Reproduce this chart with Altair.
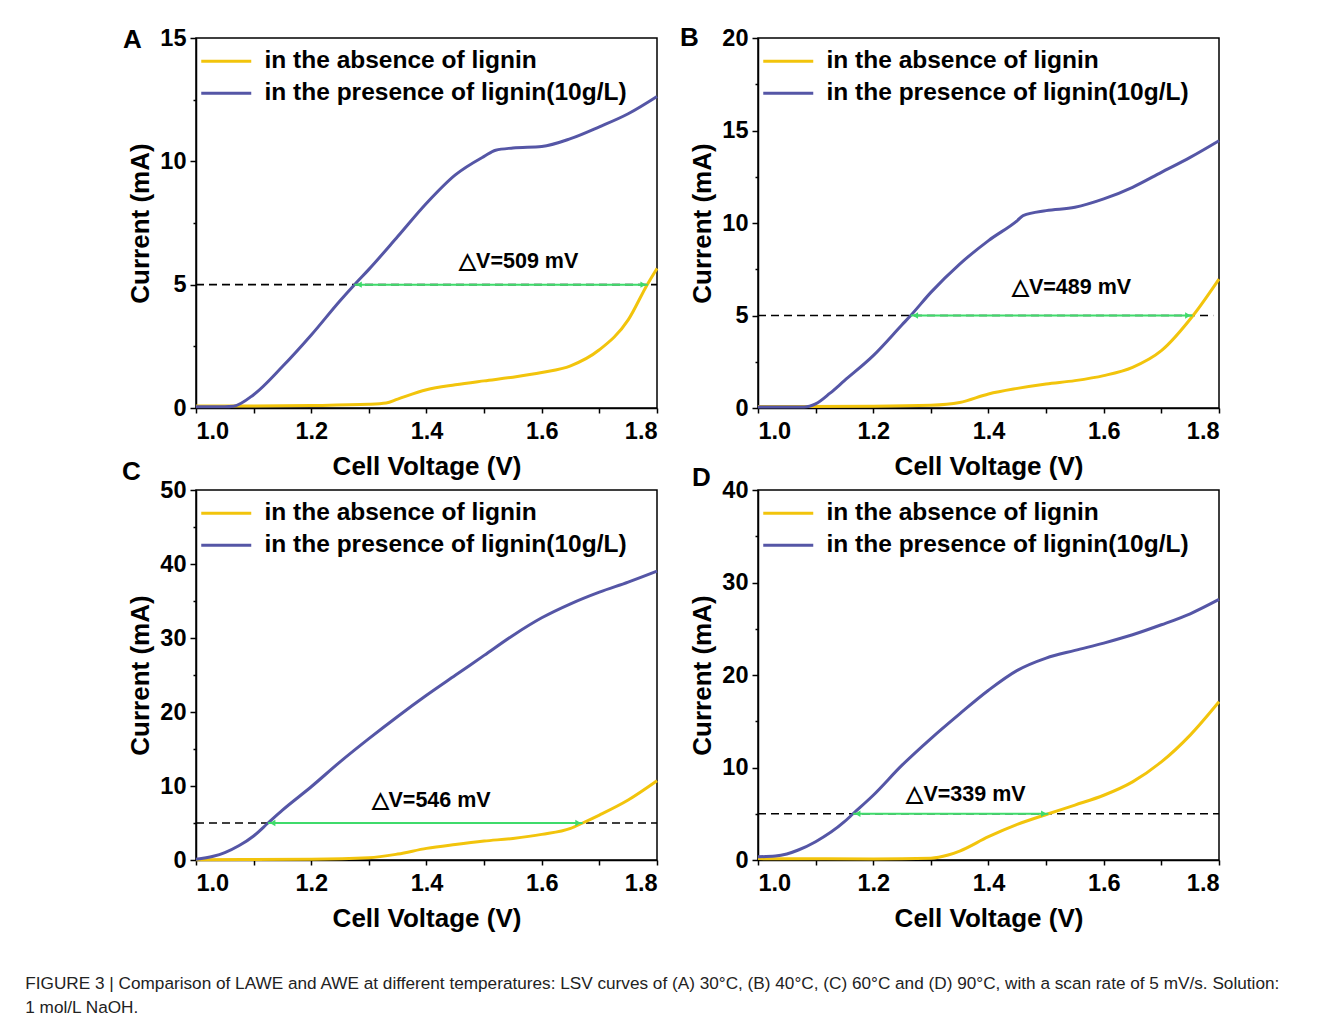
import altair as alt
import pandas as pd

FONT = "Liberation Sans"
ABSENCE = "in the absence of lignin"
PRESENCE = "in the presence of lignin(10g/L)"
SERIES = [ABSENCE, PRESENCE]
COLORS = ["#F2C40C", "#5556A6"]
GREEN = "#3FDB6B"

# ---------- data ----------
# Panel A (30 °C)
A_V_ABS = [1.0, 1.1, 1.2, 1.3, 1.33, 1.35, 1.4, 1.45, 1.5, 1.55, 1.6, 1.65, 1.7, 1.75, 1.783, 1.8]
A_I_ABS = [0.08, 0.08, 0.1, 0.15, 0.2, 0.36, 0.74, 0.94, 1.1, 1.25, 1.44, 1.71, 2.36, 3.57, 5.0, 5.66]
A_V_PRES = [1.0, 1.05, 1.065, 1.1, 1.15, 1.2, 1.25, 1.275, 1.3, 1.35, 1.4, 1.45, 1.5, 1.52, 1.55, 1.6, 1.65, 1.7, 1.75, 1.8]
A_I_PRES = [0.05, 0.05, 0.07, 0.54, 1.68, 2.96, 4.35, 5.0, 5.62, 6.95, 8.3, 9.45, 10.2, 10.45, 10.54, 10.6, 10.92, 11.4, 11.93, 12.63]

# Panel B (40 °C)
B_V_ABS = [1.0, 1.2, 1.3, 1.35, 1.4, 1.45, 1.5, 1.55, 1.6, 1.65, 1.7, 1.755, 1.8]
B_I_ABS = [0.08, 0.1, 0.15, 0.3, 0.76, 1.06, 1.3, 1.48, 1.75, 2.2, 3.1, 5.0, 6.97]
B_V_PRES = [1.0, 1.08, 1.1, 1.125, 1.15, 1.2, 1.25, 1.265, 1.3, 1.35, 1.4, 1.45, 1.46, 1.5, 1.55, 1.6, 1.65, 1.7, 1.75, 1.8]
B_I_PRES = [0.05, 0.05, 0.22, 0.8, 1.48, 2.83, 4.5, 5.0, 6.25, 7.78, 9.05, 10.13, 10.4, 10.67, 10.85, 11.3, 11.93, 12.74, 13.55, 14.45]

# Panel C (60 °C)
C_V_ABS = [1.0, 1.2, 1.3, 1.35, 1.4, 1.45, 1.5, 1.55, 1.6, 1.65, 1.671, 1.7, 1.75, 1.8]
C_I_ABS = [0.05, 0.1, 0.3, 0.8, 1.57, 2.1, 2.56, 2.92, 3.46, 4.27, 5.0, 6.07, 8.1, 10.7]
C_V_PRES = [1.0, 1.03, 1.05, 1.075, 1.1, 1.125, 1.15, 1.2, 1.25, 1.3, 1.35, 1.4, 1.45, 1.5, 1.55, 1.6, 1.65, 1.7, 1.75, 1.8]
C_I_PRES = [0.1, 0.5, 1.0, 1.95, 3.25, 5.0, 6.74, 9.9, 13.26, 16.4, 19.4, 22.26, 24.96, 27.65, 30.35, 32.73, 34.62, 36.2, 37.55, 39.03]

# Panel D (90 °C)
D_V_ABS = [1.0, 1.2, 1.3, 1.33, 1.35, 1.4, 1.45, 1.504, 1.55, 1.6, 1.65, 1.7, 1.75, 1.8]
D_I_ABS = [0.15, 0.12, 0.2, 0.54, 0.97, 2.52, 3.85, 5.0, 5.94, 7.0, 8.45, 10.6, 13.5, 17.1]
D_V_PRES = [1.0, 1.03, 1.05, 1.07, 1.1, 1.15, 1.165, 1.2, 1.25, 1.3, 1.35, 1.4, 1.45, 1.5, 1.55, 1.6, 1.65, 1.7, 1.75, 1.8]
D_I_PRES = [0.35, 0.43, 0.65, 1.08, 1.98, 4.14, 5.0, 7.0, 10.25, 13.13, 15.8, 18.35, 20.5, 21.83, 22.66, 23.45, 24.35, 25.43, 26.62, 28.17]

PANEL_LETTERS = ["A", "B", "C", "D"]
Y_MAX = [15, 20, 50, 40]
Y_MAJOR = [5, 5, 10, 10]
Y_MINOR = [2.5, 2.5, 5, 5]
X_TICKS = [1.0, 1.1, 1.2, 1.3, 1.4, 1.5, 1.6, 1.7, 1.8]
REF_CURRENT = 5
DASH_END = [1.8, 1.79, 1.8, 1.8]
DV_START = [1.275, 1.265, 1.125, 1.165]
DV_END = [1.784, 1.754, 1.671, 1.504]
DV_LABELS = ["△V=509 mV", "△V=489 mV", "△V=546 mV", "△V=339 mV"]
DV_TEXT_X = [1.56, 1.544, 1.408, 1.361]
DV_TEXT_Y = [5.9, 6.5, 8.0, 7.0]

CAPTION = [
    "FIGURE 3 | Comparison of LAWE and AWE at different temperatures: LSV curves of (A) 30°C, (B) 40°C, (C) 60°C and (D) 90°C, with a scan rate of 5 mV/s. Solution:",
    "1 mol/L NaOH.",
]

# layout (pixels)
WIDTH = 461
HEIGHT = 370
LETTER_DX = [-73, -78, -74, -66]
LETTER_DY = [27, 25, 7, 13]

PANEL_DATA = [
    (A_V_ABS, A_I_ABS, A_V_PRES, A_I_PRES),
    (B_V_ABS, B_I_ABS, B_V_PRES, B_I_PRES),
    (C_V_ABS, C_I_ABS, C_V_PRES, C_I_PRES),
    (D_V_ABS, D_I_ABS, D_V_PRES, D_I_PRES),
]

# legend symbol: a horizontal stroke drawn by a custom path (length = 2.5 * sqrt(size))
LEGEND_PATH = "M-2.5,0H2.5"


def panel(i):
    v_abs, i_abs, v_pres, i_pres = PANEL_DATA[i]
    lines = pd.DataFrame({
        "V": v_abs + v_pres,
        "I": i_abs + i_pres,
        "series": [ABSENCE] * len(v_abs) + [PRESENCE] * len(v_pres),
    })
    minor = Y_MINOR[i]
    major = Y_MAJOR[i]
    yvals = [round(k * minor, 3) for k in range(int(round(Y_MAX[i] / minor)) + 1)]

    x = alt.X("V:Q", scale=alt.Scale(domain=[1.0, 1.8], nice=False, zero=False),
              axis=alt.Axis(values=X_TICKS, title="Cell Voltage (V)",
                            labelExpr="round(datum.value*10) % 2 == 0 ? format(datum.value, '.1f') : ''"))
    y = alt.Y("I:Q", scale=alt.Scale(domain=[0, Y_MAX[i]], nice=False),
              axis=alt.Axis(values=yvals, title="Current (mA)",
                            labelExpr=f"datum.value % {major} == 0 ? format(datum.value, 'd') : ''",
                            tickSize={"condition": {"test": f"datum.value % {major} != 0", "value": 3}, "value": 6}))

    dash_df = pd.DataFrame({"V": [1.0], "V2": [DASH_END[i]], "I": [REF_CURRENT]})
    arrow_df = pd.DataFrame({"V": [DV_START[i]], "V2": [DV_END[i]], "I": [REF_CURRENT]})
    head_df = pd.DataFrame({"V": [DV_START[i] + 0.008, DV_END[i] - 0.008],
                            "I": [REF_CURRENT, REF_CURRENT],
                            "shape": ["triangle-left", "triangle-right"]})
    text_df = pd.DataFrame({"V": [DV_TEXT_X[i]], "I": [DV_TEXT_Y[i]], "label": [DV_LABELS[i]]})

    dash = alt.Chart(dash_df).mark_rule(color="black", strokeWidth=1.6, strokeDash=[8, 5]).encode(
        x=x, x2="V2:Q", y=y)
    curves = alt.Chart(lines).mark_line(strokeWidth=3, interpolate="monotone").encode(
        x=x, y=y,
        color=alt.Color("series:N", scale=alt.Scale(domain=SERIES, range=COLORS),
                        legend=alt.Legend(title=None, orient="none", legendX=18, legendY=11)),
    )
    arrow = alt.Chart(arrow_df).mark_rule(color=GREEN, strokeWidth=2).encode(x=x, x2="V2:Q", y=y)
    heads = alt.Chart(head_df).mark_point(filled=True, color=GREEN, size=40, opacity=1).encode(
        x=x, y=y, shape=alt.Shape("shape:N", scale=None))
    text = alt.Chart(text_df).mark_text(font=FONT, fontSize=21.5, fontWeight="bold", color="black",
                                        baseline="middle").encode(x=x, y=y, text="label:N")

    return alt.layer(dash, curves, arrow, heads, text).properties(
        width=WIDTH, height=HEIGHT,
        title=alt.TitleParams(text=PANEL_LETTERS[i], anchor="start", frame="group",
                              font=FONT, fontSize=26, fontWeight="bold", color="black",
                              dx=LETTER_DX[i], dy=LETTER_DY[i], offset=0),
    )


res = dict(x="independent", y="independent", color="independent")
chart = alt.concat(
    panel(0), panel(1), panel(2), panel(3), columns=2, bounds="flush",
    spacing={"row": 82, "column": 101},
).resolve_scale(**res).properties(
    title=alt.TitleParams(text=CAPTION, orient="bottom", anchor="start", font=FONT, fontSize=17.2,
                          fontWeight="normal", color="#222222", dx=-96, offset=43, lineHeight=24),
    padding={"left": 17, "top": 16, "right": 5, "bottom": 5},
).configure_axis(
    labelFont=FONT, labelFontSize=23.5, labelFontWeight="bold", labelColor="black",
    titleFont=FONT, titleFontSize=26, titleFontWeight="bold", titleColor="black",
    domainColor="black", domainWidth=1.5, tickColor="black", tickWidth=1.5, grid=False,
    labelPadding=4,
).configure_axisX(titlePadding=11, labelPadding=6).configure_axisY(titlePadding=6).configure_view(
    stroke="black", strokeWidth=1.5
).configure_legend(
    symbolType=LEGEND_PATH, symbolSize=400, symbolStrokeWidth=3, labelFont=FONT,
    labelFontSize=24.5, labelFontWeight="bold", labelColor="black", labelLimit=600,
    rowPadding=7, labelOffset=26, padding=0,
)

chart.save("out.html", embed_options={"renderer": "svg", "actions": False})
